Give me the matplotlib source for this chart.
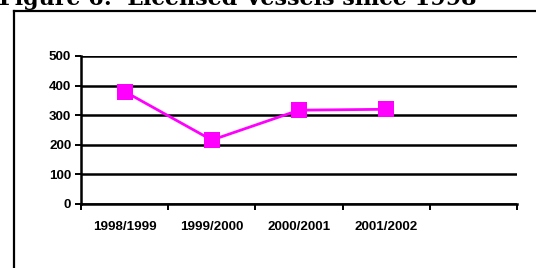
import matplotlib
matplotlib.use("Agg")
import matplotlib.pyplot as plt
from matplotlib.lines import Line2D

categories = ["1998/1999", "1999/2000", "2000/2001", "2001/2002"]
values = [380, 216, 317, 320]
yticks = [0, 100, 200, 300, 400, 500]
title = "Figure 6:  Licensed Vessels since 1998"

W, H = 536, 268
fig = plt.figure(figsize=(W / 100, H / 100), dpi=100)
fig.patch.set_facecolor("white")

# outer frame (top and left visible)
fig.add_artist(Line2D([14 / W, 14 / W], [0, 1 - 11 / H], color="black", lw=1.6, transform=fig.transFigure))
fig.add_artist(Line2D([14 / W, 1], [1 - 11 / H, 1 - 11 / H], color="black", lw=1.6, transform=fig.transFigure))

fig.text(-0.002, 1 - 5 / H, title, fontsize=16, fontweight="bold", family="DejaVu Serif",
         va="baseline", ha="left")

ax = fig.add_axes([81 / W, 1 - 204 / H, (517 - 81) / W, (204 - 56) / H])
x = [i + 0.5 for i in range(len(categories))]
ax.plot(x, values, color="#FF00FF", lw=2.0, marker="s", markersize=11, markeredgewidth=0)
ax.set_xlim(0, 5)
ax.set_ylim(0, 500)
ax.set_yticks(yticks)
ax.set_yticklabels([str(v) for v in yticks])
ax.yaxis.grid(True, color="black", lw=1.8)
ax.set_axisbelow(True)
ax.set_xticks(range(6))
ax.set_xticklabels([])
ax.set_xticks(x, minor=True)
ax.set_xticklabels(categories, minor=True)
ax.tick_params(axis="x", which="minor", length=0, pad=12)
ax.tick_params(axis="x", which="major", length=4, width=1.4, direction="out")
ax.tick_params(axis="y", length=4, width=1.4, direction="out", pad=3)
for lab in ax.get_xticklabels(minor=True) + ax.get_yticklabels():
    lab.set_fontfamily("Liberation Sans")
    lab.set_fontweight("bold")
    lab.set_fontsize(9.6)
for s in ["top", "right"]:
    ax.spines[s].set_visible(False)
for s in ["left", "bottom"]:
    ax.spines[s].set_linewidth(1.8)

fig.savefig("out.png", dpi=100)
